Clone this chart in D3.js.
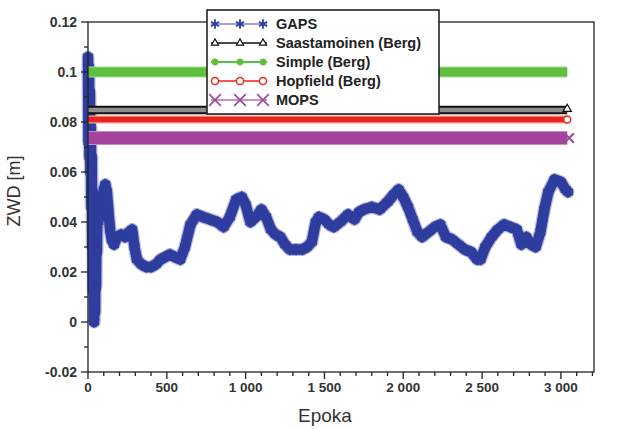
<!DOCTYPE html>
<html><head><meta charset="utf-8">
<script src="https://cdn.jsdelivr.net/npm/d3@7"></script>
<style>
html,body{margin:0;padding:0;background:#fff;}
svg{display:block;font-family:"Liberation Sans",Arial,sans-serif;}
</style></head>
<body>
<svg id="chart" width="618" height="429"></svg>
<script>
// ---- data ----
const seriesNames = ["GAPS", "Saastamoinen (Berg)", "Simple (Berg)", "Hopfield (Berg)", "MOPS"];
const seriesColors = ["#2e3d9e", "#111111", "#5cbf3e", "#e8251f", "#a3449f"];

const gapsEpochs = [0,3,6,9,12,15,18,21,24,27,30,33,36,39,42,45,48,51,54,57,60,66,72,80,90,100,110,120,130,140,150,165,185,210,235,260,280,295,310,340,370,400,430,460,490,520,550,585,615,650,690,730,775,820,860,900,940,975,1000,1030,1065,1100,1130,1160,1190,1220,1250,1280,1320,1360,1390,1420,1445,1465,1500,1530,1560,1600,1650,1690,1720,1750,1800,1850,1900,1940,1970,2000,2030,2060,2090,2120,2160,2200,2235,2270,2310,2350,2390,2430,2470,2490,2520,2560,2600,2640,2680,2720,2750,2780,2810,2840,2870,2895,2920,2960,3000,3030,3045];
const gapsValues = [0.106,0.072,0.102,0.066,0.092,0.060,0.078,0.046,0.066,0.030,0.052,0.012,0.042,0.000,0.032,0.004,0.040,0.014,0.046,0.028,0.050,0.040,0.046,0.042,0.048,0.053,0.055,0.052,0.044,0.037,0.033,0.031,0.034,0.035,0.034,0.036,0.037,0.030,0.025,0.023,0.022,0.022,0.023,0.025,0.026,0.027,0.026,0.025,0.030,0.039,0.043,0.042,0.041,0.040,0.038,0.042,0.049,0.050,0.047,0.040,0.042,0.045,0.042,0.037,0.035,0.034,0.031,0.029,0.029,0.029,0.030,0.032,0.040,0.042,0.041,0.039,0.038,0.040,0.043,0.041,0.044,0.045,0.046,0.045,0.048,0.051,0.053,0.050,0.046,0.041,0.036,0.034,0.036,0.038,0.039,0.034,0.033,0.031,0.029,0.028,0.025,0.025,0.030,0.034,0.037,0.039,0.038,0.037,0.031,0.034,0.031,0.030,0.036,0.045,0.052,0.057,0.056,0.053,0.052];

// constant model values (Saastamoinen, Simple, Hopfield, MOPS)
const modelValues = [0.0848, 0.100, 0.081, 0.0736];
const modelEpochs = [0, 3040];

const xTicks = [0, 500, 1000, 1500, 2000, 2500, 3000];
const yTicks = [-0.02, 0, 0.02, 0.04, 0.06, 0.08, 0.1, 0.12];
const yTickLabels = ["-0.02", "0", "0.02", "0.04", "0.06", "0.08", "0.1", "0.12"];

// ---- drawing ----
const svg = d3.select("#chart");
const x = d3.scaleLinear().domain([0, 3210]).range([88, 594]);
const y = d3.scaleLinear().domain([-0.02, 0.12]).range([372, 22]);
const loc = d3.formatLocale({decimal: ".", thousands: " ", grouping: [3], currency: ["", ""]});
const fmt = loc.format(",");

const line = d3.line().x(d => x(d[0])).y(d => y(d[1]));

// GAPS
const gaps = gapsEpochs.map((e, i) => [e, gapsValues[i]]);
svg.append("path").attr("d", line(gaps)).attr("fill", "none")
  .attr("stroke", "#7580c8").attr("stroke-width", 13).attr("stroke-linejoin", "round").attr("stroke-linecap", "round").attr("opacity", 0.55);
svg.append("path").attr("d", line(gaps)).attr("fill", "none")
  .attr("stroke", seriesColors[0]).attr("stroke-width", 10.5).attr("stroke-linejoin", "round").attr("stroke-linecap", "round");
const star = d3.symbol().type(d3.symbolAsterisk).size(90);
svg.append("g").selectAll("path").data(gaps).join("path")
  .attr("d", star).attr("transform", d => `translate(${x(d[0])},${y(d[1])})`)
  .attr("fill", "none").attr("stroke", seriesColors[0]).attr("stroke-width", 1.6);

// constant models
const bandStyles = [
  {under: "#111111", uw: 8.5, over: "#8d8d8d", ow: 4.5},
  {under: "#a9dd95", uw: 11, over: seriesColors[2], ow: 9},
  {under: "#f39a90", uw: 8, over: seriesColors[3], ow: 5.5},
  {under: "#c88ac3", uw: 14, over: seriesColors[4], ow: 12}
];
modelValues.forEach((v, i) => {
  const pts = modelEpochs.map(e => [e, v]);
  const st = bandStyles[i];
  svg.append("path").attr("d", line(pts)).attr("stroke", st.under).attr("stroke-width", st.uw).attr("fill", "none");
  svg.append("path").attr("d", line(pts)).attr("stroke", st.over).attr("stroke-width", st.ow).attr("fill", "none");
});
// end markers
const lastE = modelEpochs[1];
svg.append("path").attr("d", d3.symbol().type(d3.symbolTriangle).size(30)())
  .attr("transform", `translate(${x(lastE)},${y(modelValues[0]) - 1})`).attr("fill", "#fff").attr("stroke", "#111").attr("stroke-width", 1.2);
svg.append("circle").attr("cx", x(lastE)).attr("cy", y(modelValues[2])).attr("r", 3.5)
  .attr("fill", "#fff").attr("stroke", seriesColors[3]).attr("stroke-width", 1.5);
svg.append("path").attr("d", d3.symbol().type(d3.symbolX).size(60)())
  .attr("transform", `translate(${x(lastE) + 2},${y(modelValues[3])})`).attr("fill", "none").attr("stroke", seriesColors[4]).attr("stroke-width", 2);

// frame
svg.append("rect").attr("x", 88).attr("y", 22).attr("width", 506).attr("height", 350)
  .attr("fill", "none").attr("stroke", "#222").attr("stroke-width", 1.3);

// x axis
const xg = svg.append("g").attr("transform", "translate(0,372)");
xg.append("g").selectAll("line").data(d3.range(0, 3201, 100)).join("line")
  .attr("x1", d => x(d)).attr("x2", d => x(d)).attr("y1", 0).attr("y2", d => d % 500 === 0 ? 7 : 4)
  .attr("stroke", "#222").attr("stroke-width", 1.3);
xg.append("g").selectAll("text").data(xTicks).join("text")
  .attr("x", d => x(d)).attr("y", 20).attr("text-anchor", "middle")
  .attr("font-size", 13.5).attr("font-weight", "bold").attr("fill", "#333").text(d => fmt(d));
svg.append("text").attr("x", 325).attr("y", 422).attr("text-anchor", "middle")
  .attr("font-size", 19).attr("fill", "#333").text("Epoka");

// y axis
const yg = svg.append("g").attr("transform", "translate(88,0)");
yg.append("g").selectAll("line").data(d3.range(-0.02, 0.1201, 0.01)).join("line")
  .attr("y1", d => y(d)).attr("y2", d => y(d)).attr("x1", 0).attr("x2", (d, i) => i % 2 === 0 ? -7 : -4)
  .attr("stroke", "#222").attr("stroke-width", 1.3);
yg.append("g").selectAll("text").data(yTicks).join("text")
  .attr("x", -11).attr("y", d => y(d)).attr("dy", "0.35em").attr("text-anchor", "end")
  .attr("font-size", 14).attr("font-weight", "bold").attr("fill", "#333").text((d, i) => yTickLabels[i]);
svg.append("text").attr("transform", "translate(20,191) rotate(-90)").attr("text-anchor", "middle")
  .attr("font-size", 18).attr("fill", "#333").text("ZWD [m]");

// legend
const lg = svg.append("g");
lg.append("rect").attr("x", 207).attr("y", 10).attr("width", 232).attr("height", 104)
  .attr("fill", "#fff").attr("stroke", "#222").attr("stroke-width", 1.6);
const legY = [24, 43, 62, 81, 100];
const mx = [215, 240, 263];
seriesNames.forEach((name, i) => {
  const yy = legY[i];
  const c = seriesColors[i];
  lg.append("line").attr("x1", 211).attr("x2", 267).attr("y1", yy).attr("y2", yy)
    .attr("stroke", i === 0 ? "#7b83c9" : (i === 4 ? "#b46fb0" : c)).attr("stroke-width", i === 2 ? 2 : 1.3);
  mx.forEach(m => {
    let p;
    if (i === 0) p = lg.append("path").attr("d", d3.symbol().type(d3.symbolAsterisk).size(60)()).attr("fill", "none").attr("stroke", c).attr("stroke-width", 1.8);
    else if (i === 1) p = lg.append("path").attr("d", d3.symbol().type(d3.symbolTriangle).size(22)()).attr("fill", "#fff").attr("stroke", c).attr("stroke-width", 1.2);
    else if (i === 2) p = lg.append("path").attr("d", d3.symbol().type(d3.symbolCircle).size(30)()).attr("fill", c).attr("stroke", c).attr("stroke-width", 1);
    else if (i === 3) p = lg.append("path").attr("d", d3.symbol().type(d3.symbolCircle).size(40)()).attr("fill", "#fff").attr("stroke", c).attr("stroke-width", 1.5);
    else p = lg.append("path").attr("d", d3.symbol().type(d3.symbolX).size(90)()).attr("fill", "none").attr("stroke", c).attr("stroke-width", 1.6);
    p.attr("transform", `translate(${m},${yy})`);
  });
  lg.append("text").attr("x", 276).attr("y", yy).attr("dy", "0.36em")
    .attr("font-size", 14.5).attr("font-weight", "bold").attr("fill", "#222").text(name);
});
</script>
</body></html>
